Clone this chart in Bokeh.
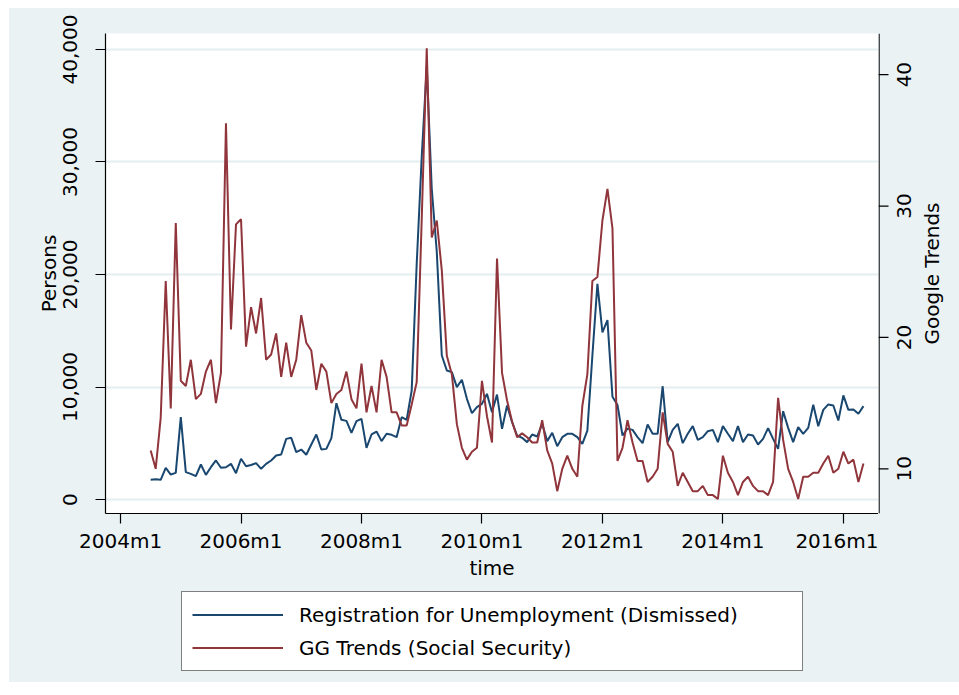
import math

from bokeh.core.properties import value
from bokeh.embed import file_html
from bokeh.layouts import column, row
from bokeh.models import (FixedTicker, Legend, LegendItem,
                          NumeralTickFormatter, Range1d)
from bokeh.plotting import figure
from bokeh.resources import INLINE

# Monthly series from 2004m7 to 2016m5
first_year, first_month = 2004, 7

# Registrations for unemployment, dismissed workers (persons)
unemployment_registrations = [
    1750, 1800, 1750, 2820, 2220, 2370, 7320,                                   # 2004m7-2005m1
    2430, 2280, 2070, 3110, 2190, 2870, 3470, 2820, 2870, 3170, 2340,           # 2005m2-2005m12
    3620, 2960, 3070, 3230, 2730, 3170, 3470, 3910, 4000, 5390, 5480, 4210,     # 2006
    4440, 3980, 4890, 5780, 4440, 4500, 5450, 8560, 7080, 6990, 5930, 6960,     # 2007
    7170, 4590, 5780, 6040, 5190, 5840, 5750, 5540, 7320, 7080, 9690, 20950,    # 2008
    30430, 38500, 27600, 22000, 12800, 11470, 11320, 9990, 10640, 8950, 7670, 8210,  # 2009
    8500, 9390, 7760, 9330, 6280, 8360, 6870, 5690, 5480, 5100, 5780, 5600,     # 2010
    6730, 5190, 5930, 4740, 5540, 5840, 5840, 5540, 4950, 6130, 12800, 19170,   # 2011
    14850, 15950, 9130, 8400, 5690, 6300, 6190, 5540, 5010, 6670, 5840, 5840,   # 2012
    10070, 5100, 6190, 6730, 5010, 5840, 6520, 5300, 5540, 6070, 6190, 5100,    # 2013
    6520, 5840, 5190, 6520, 5100, 5780, 5690, 4890, 5390, 6340, 5390, 4500,     # 2014
    7850, 6370, 5100, 6430, 5840, 6370, 8420, 6520, 7970, 8450, 8360, 7020,     # 2015
    9250, 7970, 8000, 7620, 8300,                                               # 2016m1-2016m5
]

# Google Trends index for "Social Security"
google_trends = [
    11.4, 10.0, 13.9, 24.3, 14.6, 28.7, 16.7,                                   # 2004m7-2005m1
    16.3, 18.3, 15.3, 15.7, 17.4, 18.3, 15.0, 17.3, 36.3, 20.6, 28.6,           # 2005m2-2005m12
    29.0, 19.3, 22.3, 20.3, 23.0, 18.3, 18.7, 20.3, 17.0, 19.6, 17.0, 18.3,     # 2006
    21.7, 19.6, 19.0, 16.0, 18.0, 17.4, 15.0, 15.7, 16.0, 17.4, 15.3, 14.6,     # 2007
    18.0, 14.3, 16.3, 14.3, 18.3, 17.0, 14.3, 14.3, 13.3, 13.3, 14.9, 16.6,     # 2008
    29.0, 42.0, 27.6, 28.9, 25.1, 18.6, 17.2, 13.4, 11.6, 10.7, 11.3, 11.6,     # 2009
    16.7, 14.0, 12.0, 26.0, 17.3, 15.2, 13.6, 12.4, 12.7, 12.4, 12.0, 12.0,     # 2010
    13.7, 11.4, 10.4, 8.3, 10.0, 11.0, 10.0, 9.4, 14.8, 17.2, 24.3, 24.6,       # 2011
    28.9, 31.3, 28.3, 10.6, 11.6, 13.7, 12.0, 10.6, 10.6, 9.0, 9.4, 10.0,       # 2012
    14.3, 11.9, 11.3, 8.7, 9.7, 9.0, 8.3, 8.3, 8.7, 8.0, 8.0, 7.7,              # 2013
    11.0, 9.7, 9.0, 8.0, 9.0, 9.4, 8.7, 8.3, 8.3, 8.0, 9.0, 15.4,               # 2014
    12.2, 10.0, 9.0, 7.7, 9.4, 9.4, 9.7, 9.7, 10.4, 11.0, 9.7, 10.0,            # 2015
    11.3, 10.4, 10.7, 9.0, 10.4,                                                # 2016m1-2016m5
]

time_tick_labels = ["2004m1", "2006m1", "2008m1", "2010m1", "2012m1", "2014m1", "2016m1"]
persons_ticks = [0, 10000, 20000, 30000, 40000]
trends_ticks = [10, 20, 30, 40]

series_labels = ["Registration for Unemployment (Dismissed)", "GG Trends (Social Security)"]
trends_title = "Google Trends"


def month_index(year, month):
    """Months elapsed since 2004m1 (Stata-style monthly date)."""
    return (year - 2004) * 12 + (month - 1)


def parse_tm(label):
    y, m = label.split("m")
    return month_index(int(y), int(m))


start = month_index(first_year, first_month)
t = [start + i for i in range(len(unemployment_registrations))]
tick_pos = [parse_tm(s) for s in time_tick_labels]

BG = "#EAF2F3"
GRID = "#E4EDF0"
NAVY = "#1A476F"
MAROON = "#90353B"
FONT = "DejaVu Sans"
FS = "20px"

TOP, BOTTOM = 25, 72          # borders around the plotting frame
trends_range = (6.6, 43.13)

# ---- main chart -------------------------------------------------------------
p = figure(
    width=869, height=577,
    output_backend="svg", toolbar_location=None,
    x_range=Range1d(-3, 151), y_range=Range1d(-1244, 41422),
    min_border_left=96, min_border_right=0,
    min_border_top=TOP, min_border_bottom=BOTTOM,
    background_fill_color="white", border_fill_color=BG,
    outline_line_color=None,
)

p.extra_y_ranges = {"trends": Range1d(*trends_range)}

p.line(t, unemployment_registrations, line_color=NAVY, line_width=2)
p.line(t, google_trends, line_color=MAROON, line_width=2, y_range_name="trends")

# Grid: horizontal lines at the persons ticks only
p.xgrid.visible = False
p.ygrid.ticker = FixedTicker(ticks=persons_ticks)
p.ygrid.grid_line_color = GRID
p.ygrid.grid_line_width = 2


def style_axis(ax):
    ax.axis_line_color = "black"
    ax.axis_line_width = 1.2
    ax.major_tick_line_color = "black"
    ax.major_tick_line_width = 1.2
    ax.major_tick_out = 10
    ax.major_tick_in = 0
    ax.minor_tick_line_color = None
    ax.major_label_text_font = FONT
    ax.major_label_text_font_size = FS
    ax.major_label_text_color = "black"
    ax.axis_label_text_font = FONT
    ax.axis_label_text_font_size = FS
    ax.axis_label_text_font_style = "normal"
    ax.axis_label_text_color = "black"


xax = p.xaxis[0]
style_axis(xax)
xax.ticker = FixedTicker(ticks=tick_pos)
xax.major_label_overrides = {pos: lab for pos, lab in zip(tick_pos, time_tick_labels)}
xax.axis_label = "time"
xax.major_label_standoff = 5
xax.axis_label_standoff = 0

yax = p.yaxis[0]
style_axis(yax)
yax.ticker = FixedTicker(ticks=persons_ticks)
yax.formatter = NumeralTickFormatter(format="0,0")
yax.major_label_orientation = "vertical"
yax.axis_label = "Persons"
yax.major_label_standoff = 18
yax.axis_label_standoff = 0

# ---- right-hand Google Trends scale (strip beside the chart) -----------------
rs = figure(
    width=81, height=577,
    output_backend="svg", toolbar_location=None,
    x_range=Range1d(0, 81), y_range=Range1d(*trends_range),
    x_axis_type=None, y_axis_type=None,
    min_border_left=0, min_border_right=0,
    min_border_top=TOP, min_border_bottom=BOTTOM,
    background_fill_color=BG, border_fill_color=BG, outline_line_color=None,
)
rs.grid.visible = False
# axis line along the chart's right edge, with outward ticks
rs.segment(x0=[0.6], y0=[trends_range[0]], x1=[0.6], y1=[trends_range[1]],
           line_color="black", line_width=1.2)
rs.segment(x0=[0] * len(trends_ticks), y0=trends_ticks,
           x1=[10] * len(trends_ticks), y1=trends_ticks,
           line_color="black", line_width=1.2)
# tick labels and title, reading bottom-to-top
rs.text(x=[25] * len(trends_ticks), y=trends_ticks, text=[str(v) for v in trends_ticks],
        angle=math.pi / 2, text_align="center", text_baseline="middle",
        text_font=value(FONT), text_font_size=value(FS), text_color="black")
rs.text(x=[53], y=[sum(trends_range) / 2], text=[trends_title],
        angle=math.pi / 2, text_align="center", text_baseline="middle",
        text_font=value(FONT), text_font_size=value(FS), text_color="black")

# ---- legend strip under the chart ---------------------------------------------
lg = figure(
    width=950, height=97,
    output_backend="svg", toolbar_location=None,
    x_range=Range1d(0, 773), y_range=Range1d(0, 97),
    x_axis_type=None, y_axis_type=None,
    min_border_left=96, min_border_right=81, min_border_top=0, min_border_bottom=0,
    background_fill_color=BG, border_fill_color=BG, outline_line_color=None,
)
lg.grid.visible = False
# legend keys carry the same series; hidden here, they only supply the swatches
key_unemp = lg.line(t, unemployment_registrations, line_color=NAVY, line_width=2, visible=False)
key_trend = lg.line(t, google_trends, line_color=MAROON, line_width=2, visible=False)

legend = Legend(
    items=[LegendItem(label=series_labels[0], renderers=[key_unemp]),
           LegendItem(label=series_labels[1], renderers=[key_trend])],
    location=(76, 11), orientation="vertical",
    glyph_width=91, glyph_height=25, label_height=25, label_width=493,
    label_standoff=16, spacing=8, padding=10, margin=0,
    border_line_color="black", border_line_width=1,
    background_fill_color="white", background_fill_alpha=1.0,
    inactive_fill_alpha=0.0,
    label_text_font=FONT, label_text_font_size=FS, label_text_color="black",
)
lg.add_layout(legend, "center")

top = row(p, rs, spacing=0, styles={"background-color": BG})
page = column(top, lg, spacing=0, margin=(8, 0, 13, 9),
              styles={"background-color": BG})
open("out.html", "w").write(file_html(page, INLINE))
